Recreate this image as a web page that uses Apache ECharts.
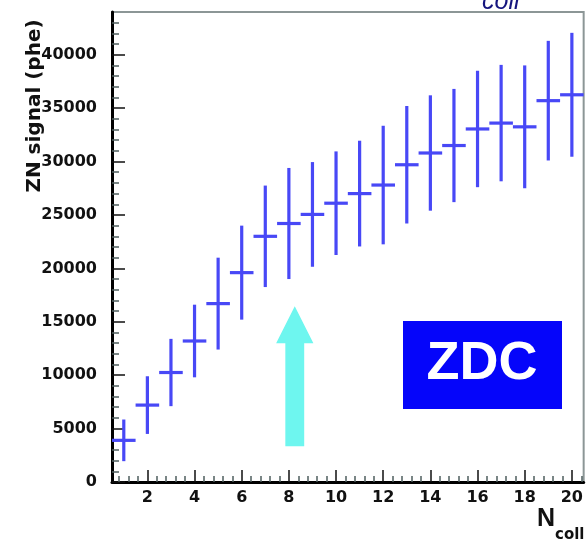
<!DOCTYPE html>
<html>
<head>
<meta charset="utf-8">
<script src="https://cdn.jsdelivr.net/npm/echarts@6/dist/echarts.min.js"></script>
<style>
  html, body { margin: 0; padding: 0; background: #fff; }
  #chart { width: 586px; height: 548px; }
</style>
</head>
<body>
<div id="chart"></div>
<script>
// Number of binary collisions (bin centres)
const nColl = [1, 2, 3, 4, 5, 6, 7, 8, 9, 10, 11, 12, 13, 14, 15, 16, 17, 18, 19, 20];
// Mean ZN signal per bin (photoelectrons)
const znSignal = [3900, 7200, 10250, 13200, 16700, 19600, 23000, 24200, 25050, 26100,
                  27000, 27800, 29700, 30800, 31500, 33050, 33600, 33250, 35700, 36250];
// Spread of the signal in each bin (half length of the vertical bar)
const znSpread = [1950, 2700, 3150, 3400, 4300, 4400, 4750, 5200, 4900, 4850,
                  4950, 5550, 5500, 5400, 5300, 5450, 5450, 5750, 5600, 5800];
// Axis tick labels
const xTickLabels = [2, 4, 6, 8, 10, 12, 14, 16, 18, 20];
const yTickLabels = [0, 5000, 10000, 15000, 20000, 25000, 30000, 35000, 40000];

const X_MIN = 0.5, X_MAX = 20.5, Y_MAX = 44000;

// Minor tick positions (5 subdivisions between major ticks)
const xMinor = [];
for (let i = 2; i <= 51; i++) {
  const v = Math.round(i * 0.4 * 10) / 10;
  if (v > X_MIN && v < X_MAX && Math.abs(v / 2 - Math.round(v / 2)) > 1e-6) xMinor.push(v);
}
const yMinor = [];
for (let v = 1000; v < Y_MAX; v += 1000) if (v % 5000 !== 0) yMinor.push(v);

const chart = echarts.init(document.getElementById('chart'), null, { renderer: 'canvas' });

const barColor = '#4848f6';
const labelFont = { fontFamily: 'DejaVu Sans', fontWeight: 'bold', fontSize: 16, color: '#111',
                    formatter: v => String(v) };

const option = {
  animation: false,
  backgroundColor: '#fff',
  grid: {
    left: 112, right: 1, top: 12, bottom: 66,
    show: true, borderColor: '#8c9696', borderWidth: 2, backgroundColor: 'transparent'
  },
  xAxis: [{
    type: 'value', min: X_MIN, max: X_MAX, position: 'bottom',
    axisLine: { show: true, onZero: false, lineStyle: { color: '#000', width: 3 } },
    axisTick: { show: true, inside: true, length: 12, customValues: xTickLabels,
                lineStyle: { color: '#111', width: 1.5 } },
    axisLabel: Object.assign({ margin: 8, customValues: xTickLabels }, labelFont),
    splitLine: { show: false }
  }, {
    type: 'value', min: X_MIN, max: X_MAX, position: 'bottom', gridIndex: 0,
    axisLine: { show: false },
    axisTick: { show: true, inside: true, length: 6, customValues: xMinor,
                lineStyle: { color: '#4f5f5f', width: 1.5 } },
    axisLabel: { show: false },
    splitLine: { show: false }
  }],
  yAxis: [{
    type: 'value', min: 0, max: Y_MAX, position: 'left',
    axisLine: { show: true, onZero: false, lineStyle: { color: '#000', width: 3 } },
    axisTick: { show: true, inside: true, length: 13, customValues: yTickLabels,
                lineStyle: { color: '#111', width: 1.5 } },
    axisLabel: Object.assign({ margin: 15, customValues: yTickLabels }, labelFont),
    splitLine: { show: false }
  }, {
    type: 'value', min: 0, max: Y_MAX, position: 'left', gridIndex: 0,
    axisLine: { show: false },
    axisTick: { show: true, inside: true, length: 7, customValues: yMinor,
                lineStyle: { color: '#4f5f5f', width: 1.5 } },
    axisLabel: { show: false },
    splitLine: { show: false }
  }],
  series: [{
    // Error-bar crosses: horizontal bar spans the bin, vertical bar spans the spread
    type: 'custom',
    xAxisIndex: 0, yAxisIndex: 0,
    clip: true,
    data: nColl.map((n, i) => [n, znSignal[i], znSpread[i]]),
    encode: { x: 0, y: 1 },
    renderItem: function (params, api) {
      const x = api.value(0), y = api.value(1), e = api.value(2);
      const top = api.coord([x, y + e]);
      const bot = api.coord([x, y - e]);
      const l = api.coord([x - 0.5, y]);
      const r = api.coord([x + 0.5, y]);
      const style = { stroke: barColor, lineWidth: 3.2, fill: null };
      return {
        type: 'group',
        children: [
          { type: 'line', shape: { x1: top[0], y1: top[1], x2: bot[0], y2: bot[1] }, style: style },
          { type: 'line', shape: { x1: l[0], y1: l[1], x2: r[0], y2: r[1] }, style: style }
        ]
      };
    }
  }, {
    // Upward arrow pointing at the curve
    type: 'custom',
    xAxisIndex: 0, yAxisIndex: 0,
    data: [[8.25, 16450]],
    encode: { x: 0, y: 1 },
    silent: true,
    renderItem: function (params, api) {
      const cx = api.value(0), tip = api.value(1);
      const headBase = 13000, base = 3350, headHalf = 0.79, shaftHalf = 0.40;
      const pts = [
        [cx, tip], [cx + headHalf, headBase], [cx + shaftHalf, headBase],
        [cx + shaftHalf, base], [cx - shaftHalf, base], [cx - shaftHalf, headBase],
        [cx - headHalf, headBase]
      ].map(p => api.coord(p));
      return { type: 'polygon', shape: { points: pts }, style: { fill: '#6ef6ef' } };
    }
  }],
  graphic: [
    {
      type: 'text', x: 35, y: 106, rotation: Math.PI / 2,
      style: { text: 'ZN signal (phe)', fontFamily: 'DejaVu Sans', fontWeight: 'bold',
               fontSize: 20, fill: '#111', align: 'center', verticalAlign: 'middle' }
    },
    {
      type: 'text', x: 537, y: 519,
      style: { text: 'N', fontFamily: 'Liberation Sans', fontWeight: 'bold',
               fontSize: 25, fill: '#111', align: 'left', verticalAlign: 'middle' }
    },
    {
      type: 'text', x: 555, y: 535,
      style: { text: 'coll', fontFamily: 'DejaVu Sans', fontWeight: 'bold',
               fontSize: 15, fill: '#111', align: 'left', verticalAlign: 'middle' }
    },
    {
      type: 'text', x: 482, y: 2,
      style: { text: 'coll', fontFamily: 'Liberation Sans', fontStyle: 'italic',
               fontSize: 25, fill: '#14147e', align: 'left', verticalAlign: 'middle' }
    },
    {
      type: 'rect', shape: { x: 403, y: 321, width: 159, height: 88 },
      style: { fill: '#0505fa' }
    },
    {
      type: 'text', x: 482, y: 364,
      style: { text: 'ZDC', fontFamily: 'Liberation Sans', fontWeight: 'bold',
               fontSize: 54, fill: '#fff', align: 'center', verticalAlign: 'middle' }
    }
  ]
};

chart.setOption(option);
</script>
</body>
</html>
